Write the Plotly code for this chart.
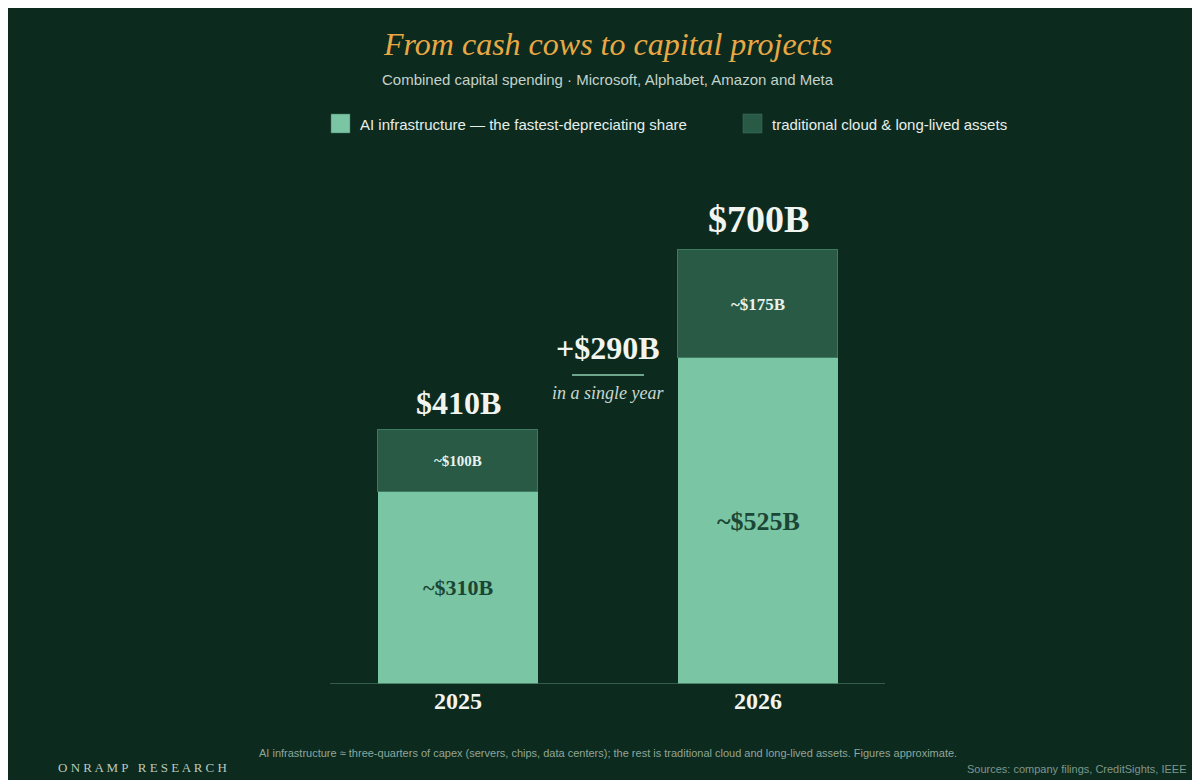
import plotly.graph_objects as go

years = ["2025", "2026"]
ai_infra = [310, 525]
traditional = [100, 175]
totals = [410, 700]
ai_labels = ["~$310B", "~$525B"]
trad_labels = ["~$100B", "~$175B"]
total_labels = ["$410B", "$700B"]
delta_label = "+$290B"
series_names = ["AI infrastructure — the fastest-depreciating share", "traditional cloud & long-lived assets"]
colors = ["#7ac5a4", "#285a45"]

xs = [0, 1]
W = 0.533
SERIF = "Liberation Serif, DejaVu Serif, serif"
SANS = "Liberation Sans, Arial, sans-serif"

def px2x(p):
    return (p - 322) / 555

def py2y(p):
    return (676 - p) / 526

fig = go.Figure()
fig.add_bar(x=xs, y=ai_infra, width=W, name=series_names[0], showlegend=False,
            marker=dict(color=colors[0], line=dict(width=0)))
fig.add_bar(x=xs, y=traditional, width=W, name=series_names[1], showlegend=False,
            marker=dict(color=colors[1], line=dict(color="#3f7a60", width=1)))

ann = []
for i in range(2):
    ann.append(dict(x=xs[i], y=ai_infra[i] / 2, text="<b>%s</b>" % ai_labels[i], showarrow=False,
                    font=dict(family=SERIF, size=26 if i else 22, color="#1b4534")))
    ann.append(dict(x=xs[i], y=ai_infra[i] + traditional[i] / 2, text="<b>%s</b>" % trad_labels[i], showarrow=False,
                    font=dict(family=SERIF, size=17 if i else 15, color="#e8f2ec")))
    ann.append(dict(x=xs[i], y=totals[i] + (50 if i else 43), yanchor="middle", text="<b>%s</b>" % total_labels[i],
                    showarrow=False, font=dict(family=SERIF, size=38 if i else 32, color="#f2f5ef")))
ann.append(dict(x=0.5, y=542, yanchor="middle", text="<b>%s</b>" % delta_label, showarrow=False,
                font=dict(family=SERIF, size=32, color="#f2f5ef")))
ann.append(dict(x=0.5, y=469, yanchor="middle", text="<i>in a single year</i>", showarrow=False,
                font=dict(family=SERIF, size=18, color="#c9d8cf")))

P = dict(xref="paper", yref="paper", showarrow=False, yanchor="middle")
ann += [
    dict(P, x=0.5, y=py2y(36), text="<i>From cash cows to capital projects</i>",
         font=dict(family=SERIF, size=32, color="#e8a945")),
    dict(P, x=0.5, y=py2y(72), text="Combined capital spending · Microsoft, Alphabet, Amazon and Meta",
         font=dict(family=SANS, size=15, color="#c3d3c9")),
    dict(P, x=px2x(350), xanchor="left", y=py2y(116), text=series_names[0],
         font=dict(family=SANS, size=15, color="#e6efe9")),
    dict(P, x=px2x(762), xanchor="left", y=py2y(116), text=series_names[1],
         font=dict(family=SANS, size=15, color="#e6efe9")),
    dict(P, x=0.5, y=py2y(745),
         text="AI infrastructure ≈ three-quarters of capex (servers, chips, data centers); the rest is traditional cloud and long-lived assets. Figures approximate.",
         font=dict(family=SANS, size=11, color="#8fa69a")),
    dict(P, x=px2x(48), xanchor="left", y=py2y(759), text="O N R A M P   R E S E A R C H",
         font=dict(family=SERIF, size=13, color="#b9c9be")),
    dict(P, x=px2x(1180), xanchor="right", y=py2y(761),
         text="Sources: company filings, CreditSights, IEEE",
         font=dict(family=SANS, size=11, color="#7f968a")),
]

shapes = [
    dict(type="line", xref="paper", yref="y", x0=0, x1=1, y0=0, y1=0, line=dict(color="#3f6f5a", width=1.5)),
    dict(type="line", xref="x", yref="y", x0=0.38, x1=0.62, y0=498, y1=498, line=dict(color="#8fd0b0", width=1.5)),
]
for lx, c in zip([323, 735], colors):
    shapes.append(dict(type="rect", xref="paper", yref="paper", x0=px2x(lx), x1=px2x(lx + 19),
                       y0=py2y(125), y1=py2y(106), fillcolor=c, line=dict(color="#3f7a60", width=0.5)))

fig.update_layout(
    width=1200, height=780, barmode="stack", bargap=0,
    paper_bgcolor="#0d2a1f", plot_bgcolor="rgba(0,0,0,0)",
    margin=dict(l=322, r=323, t=150, b=104),
    annotations=ann, shapes=shapes, showlegend=False,
    xaxis=dict(range=[-0.4267, 1.4233], tickvals=xs, ticktext=["<b>%s</b>" % y for y in years],
               showgrid=False, zeroline=False, showline=False, ticks="",
               tickfont=dict(family=SERIF, size=24, color="#f2f5ef")),
    yaxis=dict(range=[0, 848], visible=False),
)
fig.write_html("out.html")
